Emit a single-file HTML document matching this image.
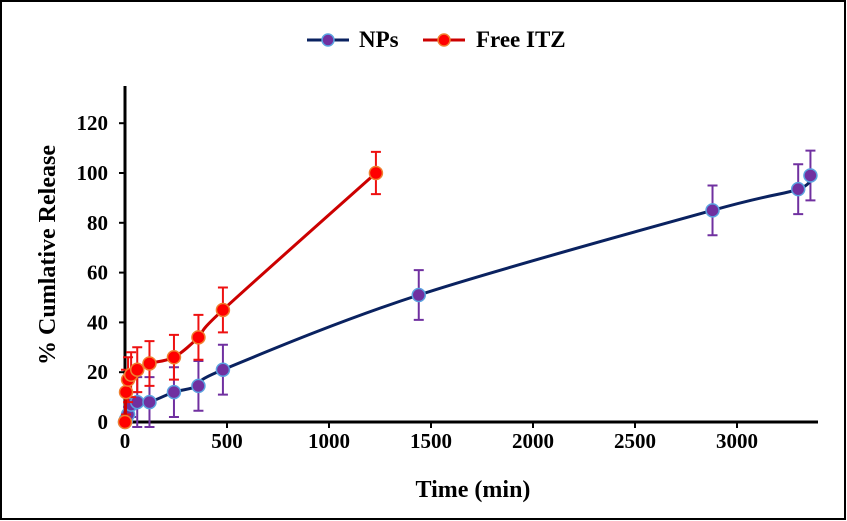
<!DOCTYPE html><html><head><style>body{margin:0;background:#fff}svg{display:block}text{font-family:"Liberation Serif",serif;font-weight:bold;fill:#000}</style></head><body>
<svg width="847" height="521" viewBox="0 0 847 521">
<rect x="1" y="1" width="844" height="518" fill="#fff" stroke="#000" stroke-width="2"/>
<g stroke="#000" stroke-width="3"><line x1="125" y1="86" x2="125" y2="423"/><line x1="124" y1="422" x2="818" y2="422"/></g>
<g stroke="#000" stroke-width="2" id="ticks"></g>
<g font-size="21" text-anchor="end" id="yl"></g>
<g font-size="21" text-anchor="middle" id="xl"></g>
<text x="473" y="497" font-size="24" text-anchor="middle">Time (min)</text>
<text transform="translate(55,255) rotate(-90)" font-size="24" text-anchor="middle">% Cumlative Release</text>
<g id="plot"></g>
<line x1="307" y1="40" x2="349" y2="40" stroke="#0a2260" stroke-width="3"/><circle cx="328" cy="40" r="6" fill="#7030a0" stroke="#5ba3e0" stroke-width="1.5"/>
<text x="359" y="47" font-size="23">NPs</text>
<line x1="423" y1="40" x2="465" y2="40" stroke="#cc0000" stroke-width="3"/><circle cx="444" cy="40" r="6" fill="#ff0000" stroke="#f08030" stroke-width="1.5"/>
<text x="476" y="47" font-size="23">Free ITZ</text>
</svg>
<script>
const X=t=>125+t*0.204,Y=v=>422-v*2.49;const ns="http://www.w3.org/2000/svg";
function el(p,n,a,tx){const e=document.createElementNS(ns,n);for(const k in a)e.setAttribute(k,a[k]);if(tx!=null)e.textContent=tx;document.getElementById(p).appendChild(e);}
for(let v=0;v<=120;v+=20){el('ticks','line',{x1:119,x2:125,y1:Y(v),y2:Y(v)});el('yl','text',{x:108,y:Y(v)+7},v);}
for(let t=0;t<=3000;t+=500){el('ticks','line',{x1:X(t),x2:X(t),y1:422,y2:428});el('xl','text',{x:X(t),y:448},t);}
const np=[[0,0,0],[5,1,0],[15,3,3],[30,7,5],[60,8,10],[120,8,10],[240,12,10],[360,14.5,10],[480,21,10],[1440,51,10],[2880,85,10],[3300,93.5,10],[3360,99,10]];
const fr=[[0,0,0],[5,12,9],[15,17,9],[30,19,9],[60,21,9],[120,23.5,9],[240,26,9],[360,34,9],[480,45,9],[1230,100,8.5]];
function smooth(pts){let p=`M${pts[0][0]} ${pts[0][1]}`;for(let i=0;i<pts.length-1;i++){const a=pts[i-1]||pts[i],b=pts[i],c=pts[i+1],d=pts[i+2]||c;const k=1/6;
p+=` C${b[0]+(c[0]-a[0])*k} ${b[1]+(c[1]-a[1])*k} ${c[0]-(d[0]-b[0])*k} ${c[1]-(d[1]-b[1])*k} ${c[0]} ${c[1]}`;}return p;}
function ser(d,lc,ec,fc,sc){const pts=d.map(q=>[X(q[0]),Y(q[1])]);
d.forEach(q=>{if(q[2]){const x=X(q[0]);el('plot','path',{d:`M${x} ${Y(q[1]-q[2])}V${Y(q[1]+q[2])}M${x-5} ${Y(q[1]-q[2])}h10M${x-5} ${Y(q[1]+q[2])}h10`,stroke:ec,'stroke-width':2,fill:'none'});}});
el('plot','path',{d:smooth(pts),stroke:lc,'stroke-width':3,fill:'none','stroke-linejoin':'round'});
d.forEach(q=>el('plot','circle',{cx:X(q[0]),cy:Y(q[1]),r:6.5,fill:fc,stroke:sc,'stroke-width':1.5}));}
ser(np,'#0a2260','#7030a0','#7030a0','#5ba3e0');
ser(fr,'#cc0000','#ee1111','#ff0000','#f08030');
</script>
</body></html>
